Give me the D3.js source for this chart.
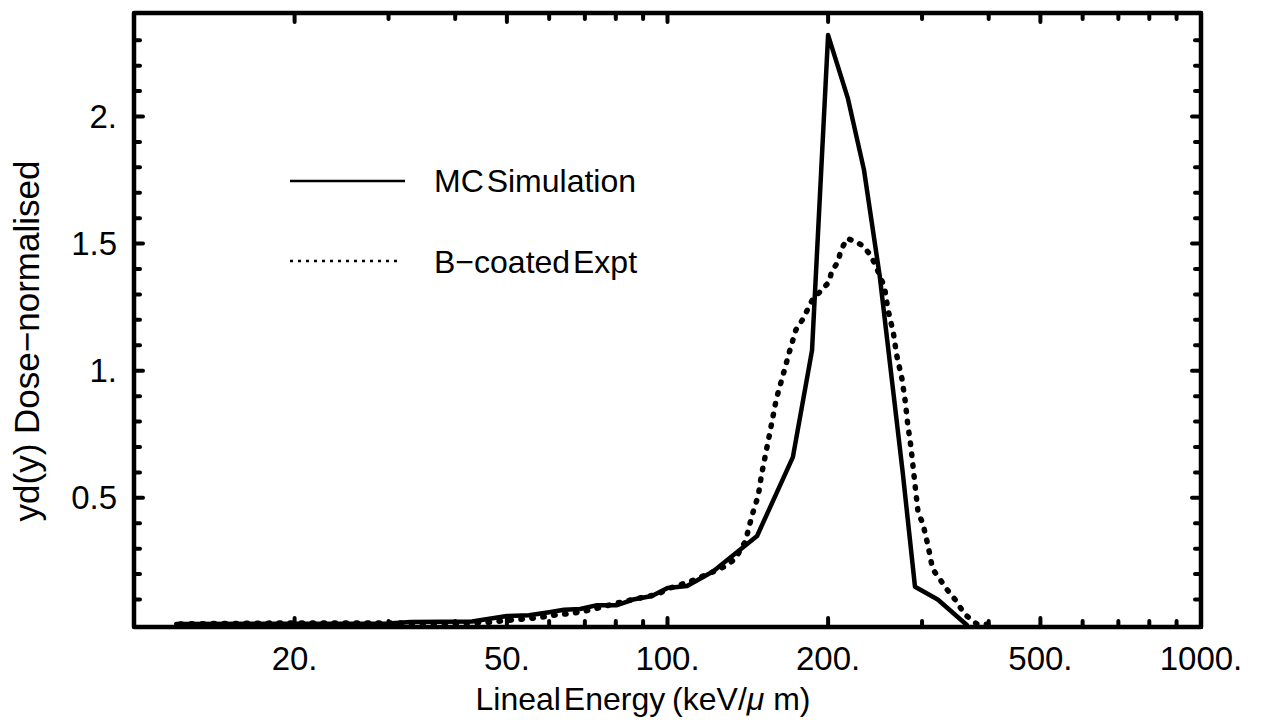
<!DOCTYPE html>
<html><head><meta charset="utf-8">
<script src="https://cdn.jsdelivr.net/npm/d3@7"></script>
<style>
body{margin:0;background:#fff}
text{font-family:"Liberation Sans",Arial,Helvetica,sans-serif;fill:#000}
</style>
</head><body>
<svg id="chart" width="1262" height="720"></svg>
<script>
// ---- data ----
const mcEnergy = [12, 20, 30, 33, 43, 50, 55, 60, 64, 68.6, 73.8, 80.4, 86.2, 93.5, 100, 108.8, 121.7, 147.2, 171.8, 186.6, 200, 217.9, 233.5, 250, 276, 291, 321, 364];
const mcDose   = [0.004, 0.005, 0.006, 0.012, 0.014, 0.035, 0.038, 0.05, 0.06, 0.063, 0.078, 0.078, 0.10, 0.114, 0.145, 0.153, 0.21, 0.35, 0.66, 1.08, 2.32, 2.07, 1.79, 1.37, 0.60, 0.15, 0.10, 0.0];

const exptEnergy = [12.2, 15, 20, 30, 40, 46, 50, 55, 58, 62, 66, 72, 80, 86, 95.6, 101, 110, 122, 128, 134, 140, 144, 148, 150, 153, 156, 160, 165, 169, 174, 179, 183, 187, 193, 201, 203, 209, 211, 217, 224, 233, 241, 247, 255, 259, 265, 269, 275, 279, 282, 286, 289, 295, 301, 308, 314, 324, 334, 346, 356, 364, 380, 399];
const exptDose   = [0.004, 0.006, 0.008, 0.008, 0.008, 0.01, 0.018, 0.025, 0.03, 0.04, 0.045, 0.06, 0.085, 0.10, 0.12, 0.145, 0.17, 0.21, 0.23, 0.26, 0.33, 0.43, 0.51, 0.59, 0.68, 0.77, 0.89, 0.99, 1.07, 1.16, 1.20, 1.24, 1.28, 1.31, 1.35, 1.39, 1.43, 1.47, 1.52, 1.51, 1.49, 1.45, 1.40, 1.33, 1.24, 1.15, 1.06, 0.97, 0.88, 0.79, 0.70, 0.61, 0.44, 0.40, 0.31, 0.22, 0.18, 0.14, 0.10, 0.06, 0.035, 0.004, 0.003];

const xMajorTicks = [20, 50, 100, 200, 500, 1000];
const xTickLabels = ["20.", "50.", "100.", "200.", "500.", "1000."];
const xMinorTicks = [30, 40, 60, 70, 80, 90, 300, 400, 600, 700, 800, 900];
const yMajorTicks = [0.5, 1, 1.5, 2];
const yTickLabels = ["0.5", "1.", "1.5", "2."];
const yMinorTicks = [0.1, 0.2, 0.3, 0.4, 0.6, 0.7, 0.8, 0.9, 1.1, 1.2, 1.3, 1.4, 1.6, 1.7, 1.8, 1.9, 2.1, 2.2, 2.3];
const seriesNames = ["MC Simulation", "B\u2212coated Expt"];

// ---- layout ----
const svg = d3.select("#chart");
const x = d3.scaleLog().domain([10, 1000]).range([134, 1201]);
const y = d3.scaleLinear().domain([-0.008, 2.407]).range([627, 13]);
const [x0, x1] = x.range();
const [y0, y1] = y.range();

// curves
const line = d3.line().x(d => x(d[0])).y(d => y(d[1]));
const mc = mcEnergy.map((e, i) => [e, mcDose[i]]);
const ex = exptEnergy.map((e, i) => [e, exptDose[i]]);

svg.append("path").datum(ex).attr("d", line)
  .attr("fill", "none").attr("stroke", "#000").attr("stroke-width", 5.5)
  .attr("stroke-linecap", "round").attr("stroke-linejoin", "round")
  .attr("stroke-dasharray", "1.5 9.5");
svg.append("path").datum(mc).attr("d", line)
  .attr("fill", "none").attr("stroke", "#000").attr("stroke-width", 4.5)
  .attr("stroke-linejoin", "round").attr("stroke-linecap", "round");

// ticks (inward, all four sides)
const tg = svg.append("g").attr("stroke", "#000").attr("stroke-width", 4).attr("stroke-linecap", "round");
function xTick(v, len) {
  tg.append("line").attr("x1", x(v)).attr("x2", x(v)).attr("y1", y0).attr("y2", y0 - len);
  tg.append("line").attr("x1", x(v)).attr("x2", x(v)).attr("y1", y1).attr("y2", y1 + len);
}
function yTick(v, len) {
  tg.append("line").attr("y1", y(v)).attr("y2", y(v)).attr("x1", x0).attr("x2", x0 + len);
  tg.append("line").attr("y1", y(v)).attr("y2", y(v)).attr("x1", x1).attr("x2", x1 - len);
}
xMajorTicks.forEach(v => xTick(v, 9));
xMinorTicks.forEach(v => xTick(v, 6));
yMajorTicks.forEach(v => yTick(v, 9));
yMinorTicks.forEach(v => yTick(v, 6));

// frame
svg.append("rect").attr("x", x0).attr("y", y1).attr("width", x1 - x0).attr("height", y0 - y1)
  .attr("fill", "none").attr("stroke", "#000").attr("stroke-width", 4.5).attr("stroke-linejoin", "round");

// tick labels
svg.append("g").selectAll("text").data(xMajorTicks).join("text")
  .attr("x", d => x(d)).attr("y", 670).attr("text-anchor", "middle")
  .attr("font-size", 33).text((d, i) => xTickLabels[i]);
svg.append("g").selectAll("text").data(yMajorTicks).join("text")
  .attr("x", 117).attr("y", d => y(d)).attr("dy", "0.35em").attr("text-anchor", "end")
  .attr("font-size", 33).text((d, i) => yTickLabels[i]);

// axis titles
const xt = svg.append("text").attr("x", 643).attr("y", 710).attr("text-anchor", "middle")
  .attr("font-size", 32).attr("word-spacing", -6);
xt.append("tspan").text("Lineal Energy ");
xt.append("tspan").attr("dx", 4).text("(keV/");
xt.append("tspan").attr("font-style", "italic").text("\u03bc");
xt.append("tspan").attr("dx", 6).text(" m)");

svg.append("text").attr("transform", "translate(39,341) rotate(-90)")
  .attr("text-anchor", "middle").attr("font-size", 35).text("yd(y) Dose\u2212normalised");

// legend
const leg = svg.append("g");
leg.append("line").attr("x1", 290).attr("x2", 405).attr("y1", 181).attr("y2", 181)
  .attr("stroke", "#000").attr("stroke-width", 2.5);
leg.append("line").attr("x1", 290).attr("x2", 397).attr("y1", 261).attr("y2", 261)
  .attr("stroke", "#000").attr("stroke-width", 2.5).attr("stroke-dasharray", "3 5");
leg.append("text").attr("x", 434).attr("y", 181).attr("dy", "0.35em").attr("font-size", 32)
  .attr("word-spacing", -6).text(seriesNames[0]);
leg.append("text").attr("x", 434).attr("y", 262).attr("dy", "0.35em").attr("font-size", 32)
  .attr("word-spacing", -6).text(seriesNames[1]);
</script>
</body></html>
